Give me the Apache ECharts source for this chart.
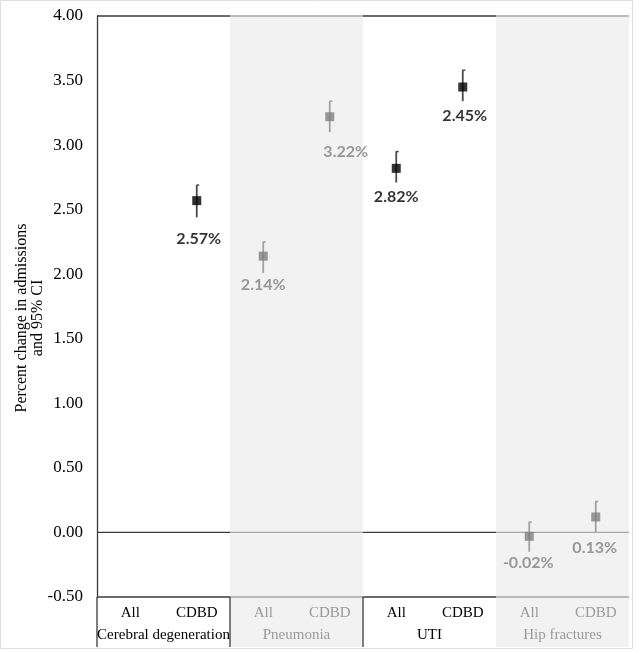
<!DOCTYPE html>
<html>
<head>
<meta charset="utf-8">
<script src="https://cdn.jsdelivr.net/npm/echarts@6/dist/echarts.min.js"></script>
<style>html,body{margin:0;padding:0;background:#fff}#c{width:640px;height:654px}</style>
</head>
<body>
<div id="c"></div>
<script>
// ---- data ----
var groups = ['Cerebral degeneration', 'Pneumonia', 'UTI', 'Hip fractures'];
var subCategories = ['All', 'CDBD', 'All', 'CDBD', 'All', 'CDBD', 'All', 'CDBD'];
var estimates = [null, 2.57, 2.14, 3.22, 2.82, 3.45, -0.03, 0.12];
var ciLow = [null, 2.44, 2.01, 3.10, 2.71, 3.34, -0.15, 0.00];
var ciHigh = [null, 2.69, 2.25, 3.34, 2.95, 3.58, 0.08, 0.24];
var pointLabels = [null, '2.57%', '2.14%', '3.22%', '2.82%', '2.45%', '-0.02%', '0.13%'];
var yTicks = { min: -0.5, max: 4, interval: 0.5 };
var yTitle = 'Percent change in admissions\nand 95% CI';

// ---- styling ----
var grayGroup = [false, true, false, true];
var DARK = '#000000', GRAY = '#7f7f7f';
var LINE_DARK = '#3a3a3a', LINE_GRAY = '#a6a6a6';
var BAND = '#f2f2f2';
var TABLE_H = 50;
// label nudges [dx, distance]
var labelNudge = [null, [2, 26], [0, 16], [16, 23], [0, 16], [2, 16], [-1, 14], [-1, 18]];

function isGrayCat(i) { return grayGroup[Math.floor(i / 2)]; }

var chart = echarts.init(document.getElementById('c'));

var scatterData = [];
var errData = [];
for (var i = 0; i < subCategories.length; i++) {
  if (estimates[i] === null) continue;
  var g = isGrayCat(i);
  var nd = labelNudge[i];
  scatterData.push({
    value: [i, estimates[i]],
    itemStyle: { color: g ? GRAY : DARK },
    label: {
      show: true, position: 'bottom', distance: nd[1], offset: [nd[0], 0],
      formatter: pointLabels[i], color: g ? GRAY : DARK
    }
  });
  errData.push([i, ciLow[i], ciHigh[i]]);
}

var option = {
  backgroundColor: '#ffffff',
  animation: false,
  graphic: [{
    type: 'rect', shape: { x: 0.5, y: 0.5, width: 632, height: 648 },
    style: { fill: 'none', stroke: '#dedede', lineWidth: 1 }, silent: true, z: -10
  }, {
    type: 'text', x: 30, y: 318, rotation: Math.PI / 2, silent: true,
    style: {
      text: yTitle, fontFamily: 'Liberation Serif', fontSize: 16, lineHeight: 16,
      fill: '#000', align: 'center', verticalAlign: 'middle'
    }
  }],
  grid: { left: 97, right: 11, top: 16, bottom: 57, containLabel: false, outerBoundsMode: 'none' },
  xAxis: [{
    type: 'category', data: subCategories, gridIndex: 0,
    axisLine: { show: false }, axisTick: { show: false }, splitLine: { show: false },
    axisLabel: {
      interval: 0, margin: 9, fontFamily: 'Liberation Serif', fontSize: 15,
      color: function (v, idx) { return isGrayCat(idx) ? '#9a9a9a' : '#000'; }
    }
  }, {
    type: 'category', data: groups, gridIndex: 0, position: 'bottom',
    axisLine: { show: false }, axisTick: { show: false }, splitLine: { show: false },
    axisLabel: {
      interval: 0, margin: 31, fontFamily: 'Liberation Serif', fontSize: 15,
      color: function (v, idx) { return grayGroup[idx] ? '#9a9a9a' : '#000'; }
    }
  }],
  yAxis: {
    type: 'value', min: yTicks.min, max: yTicks.max, interval: yTicks.interval,
    axisLine: { show: true, lineStyle: { color: LINE_DARK, width: 1.3 } },
    axisTick: { show: false }, splitLine: { show: false },
    axisLabel: {
      margin: 14, fontFamily: 'Liberation Serif', fontSize: 17, color: '#000',
      formatter: function (v) { return v.toFixed(2); }
    }
  },
  series: [{
    type: 'custom', xAxisIndex: 1, z: -1, clip: false, silent: true,
    data: groups.map(function (g, i) { return [i]; }),
    renderItem: function (params, api) {
      var i = api.value(0);
      var c = api.coord([i, yTicks.max]);
      var w = api.size([1, 0])[0];
      var x0 = c[0] - w / 2, x1 = c[0] + w / 2;
      var yTop = c[1];
      var yZero = api.coord([i, 0])[1];
      var yBot = api.coord([i, yTicks.min])[1];
      var gr = grayGroup[i];
      var lc = gr ? LINE_GRAY : LINE_DARK;
      var children = [];
      if (gr) {
        children.push({ type: 'rect', shape: { x: x0, y: yTop, width: w, height: yBot + TABLE_H - yTop }, style: { fill: BAND } });
      }
      children.push({ type: 'line', shape: { x1: x0, y1: yTop, x2: x1, y2: yTop }, style: { stroke: lc, lineWidth: 1.3 } });
      children.push({ type: 'line', shape: { x1: x0, y1: yZero, x2: x1, y2: yZero }, style: { stroke: lc, lineWidth: 1.3 } });
      children.push({ type: 'line', shape: { x1: x0, y1: yBot, x2: x1, y2: yBot }, style: { stroke: lc, lineWidth: 1.3 } });
      if (i <= 2) {
        children.push({ type: 'line', shape: { x1: x0, y1: yBot, x2: x0, y2: yBot + TABLE_H }, style: { stroke: LINE_DARK, lineWidth: 1.3 } });
      }
      return { type: 'group', children: children };
    }
  }, {
    type: 'custom', xAxisIndex: 0, z: 2, silent: true,
    data: errData,
    renderItem: function (params, api) {
      var i = api.value(0);
      var lo = api.coord([i, api.value(1)]);
      var hi = api.coord([i, api.value(2)]);
      var col = isGrayCat(i) ? '#a0a0a0' : '#4a4a4a';
      return {
        type: 'group', children: [
          { type: 'line', shape: { x1: lo[0], y1: lo[1], x2: hi[0], y2: hi[1] }, style: { stroke: col, lineWidth: 1.8 } },
          { type: 'line', shape: { x1: hi[0] - 0.5, y1: hi[1], x2: hi[0] + 2.5, y2: hi[1] }, style: { stroke: col, lineWidth: 1.5 } }
        ]
      };
    }
  }, {
    type: 'scatter', xAxisIndex: 0, z: 3, symbol: 'rect', symbolSize: 9,
    label: { fontFamily: 'Lato', fontWeight: 'bold', fontSize: 16 },
    data: scatterData
  }]
};
chart.setOption(option);
</script>
</body>
</html>
